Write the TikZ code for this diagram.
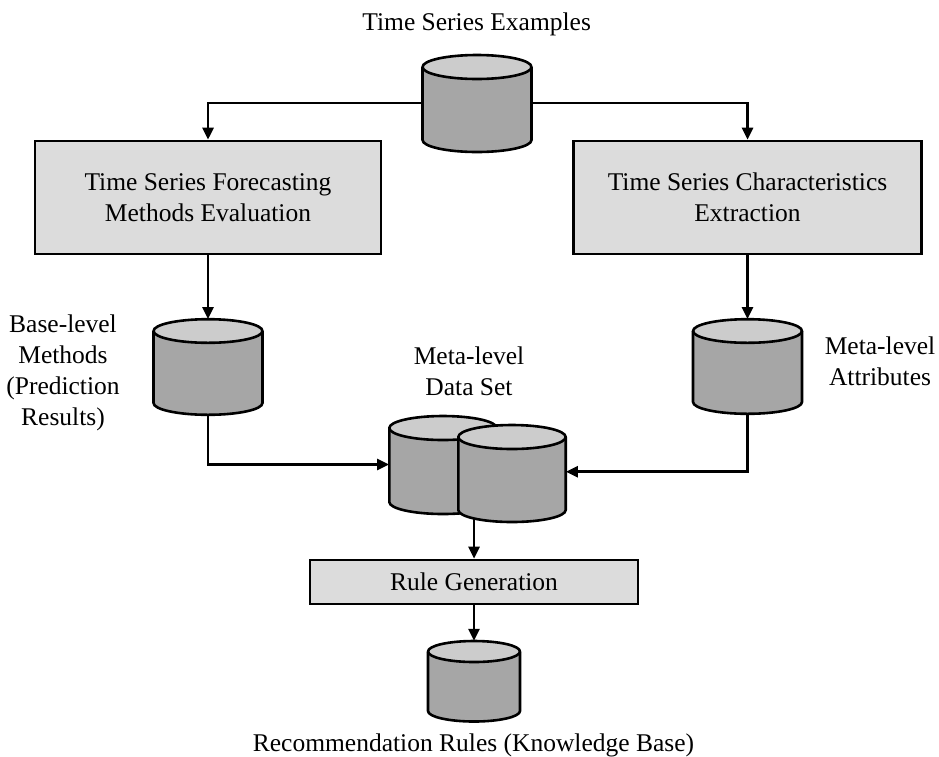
\documentclass[tikz,border=0pt]{standalone}
\usepackage{fontspec}
\setmainfont{Liberation Serif}
\usetikzlibrary{arrows.meta}

\definecolor{boxfill}{RGB}{220,220,220}
\definecolor{bodyfill}{RGB}{166,166,166}
\definecolor{topfill}{RGB}{204,204,204}

\tikzset{
  line/.style={line width=2.6pt, draw=black},
  arrow/.style={line, -{Triangle[length=12pt,width=11pt]}},
  procbox/.style={line, fill=boxfill, rectangle, inner sep=0pt, align=center},
  label/.style={inner sep=0pt, align=center},
  cylbody/.style={fill=bodyfill},
  cyltop/.style={fill=topfill},
  cylline/.style={line width=2.6pt, draw=black, line join=round},
}

% database cylinder: name, centre x, top ellipse y, bottom ellipse y, rx, ry
\newcommand\dbcyl[6]{%
  \fill[cylbody] ({#2-#5},#3) -- ({#2-#5},#4)
     arc[start angle=180,end angle=360,x radius=#5pt,y radius=#6pt] -- ({#2+#5},#3) -- cycle;
  \fill[cyltop] (#2,#3) ellipse[x radius=#5pt,y radius=#6pt];
  \draw[cylline] ({#2-#5},#3) -- ({#2-#5},#4)
     arc[start angle=180,end angle=360,x radius=#5pt,y radius=#6pt] -- ({#2+#5},#3);
  \draw[cylline] (#2,#3) ellipse[x radius=#5pt,y radius=#6pt];
  \node[inner sep=0pt, minimum width={2*#5*1pt}, minimum height={(#3-#4+2*#6)*1pt}]
     (#1) at (#2,{(#3+#4)/2}) {};
}

\begin{document}
\begin{tikzpicture}[x=1pt,y=1pt,font=\fontsize{25.5}{31}\selectfont]
\useasboundingbox (0,0) rectangle (939,-756);

% process boxes
\node[procbox, minimum width=346pt, minimum height=113pt] (fme) at (208,-197.5)
  {Time Series Forecasting\\Methods Evaluation};
\node[procbox, minimum width=348pt, minimum height=113pt] (tce) at (747.5,-197.5)
  {Time Series Characteristics\\Extraction};
\node[procbox, minimum width=328pt, minimum height=44pt] (rg) at (474,-582)
  {Rule Generation};

% databases
\dbcyl{tse}{477}{-67}{-140}{54.5}{12}
\dbcyl{bm}{208}{-331}{-403}{54.5}{11.8}
\dbcyl{ma}{747.5}{-331}{-402}{54.5}{11.8}
\dbcyl{mdsb}{443}{-428}{-502}{53.7}{12}
\dbcyl{mds}{512}{-437}{-510}{53.7}{12}
\dbcyl{kb}{474}{-651.5}{-711}{46}{10.5}

% labels
\node[label, anchor=base] (lts) at (476.7,-30.7) {Time Series Examples};
\node[label, anchor=north] (lbm) at (63,-314.6) {Base-level\\Methods\\(Prediction\\Results)};
\node[label, anchor=north] (lmds) at (469,-346.6) {Meta-level\\Data Set};
\node[label, anchor=north] (lma) at (880,-337) {Meta-level\\Attributes};
\node[label, anchor=base] (lkb) at (473.5,-751.7) {Recommendation Rules (Knowledge Base)};

% connectors
\coordinate (tseL) at (tse.west |- 0,-103);
\coordinate (tseR) at (tse.east |- 0,-103);
\draw[arrow] (tseL) -| (fme.north);
\draw[arrow] (tseR) -| (tce.north);
\draw[arrow] (fme.south) -- (bm.north);
\draw[arrow] (tce.south) -- (ma.north);
\coordinate (mdsbIn) at (mdsb.west |- 0,-464.5);
\coordinate (mdsIn) at (mds.east |- 0,-471.7);
\draw[arrow] (bm.south) |- (mdsbIn);
\draw[arrow] (ma.south) |- (mdsIn);
\coordinate (mdsOut) at (474,-518.5);
\draw[arrow] (mdsOut) -- (rg.north);
\draw[arrow] (rg.south) -- (kb.north);
\end{tikzpicture}
\end{document}
